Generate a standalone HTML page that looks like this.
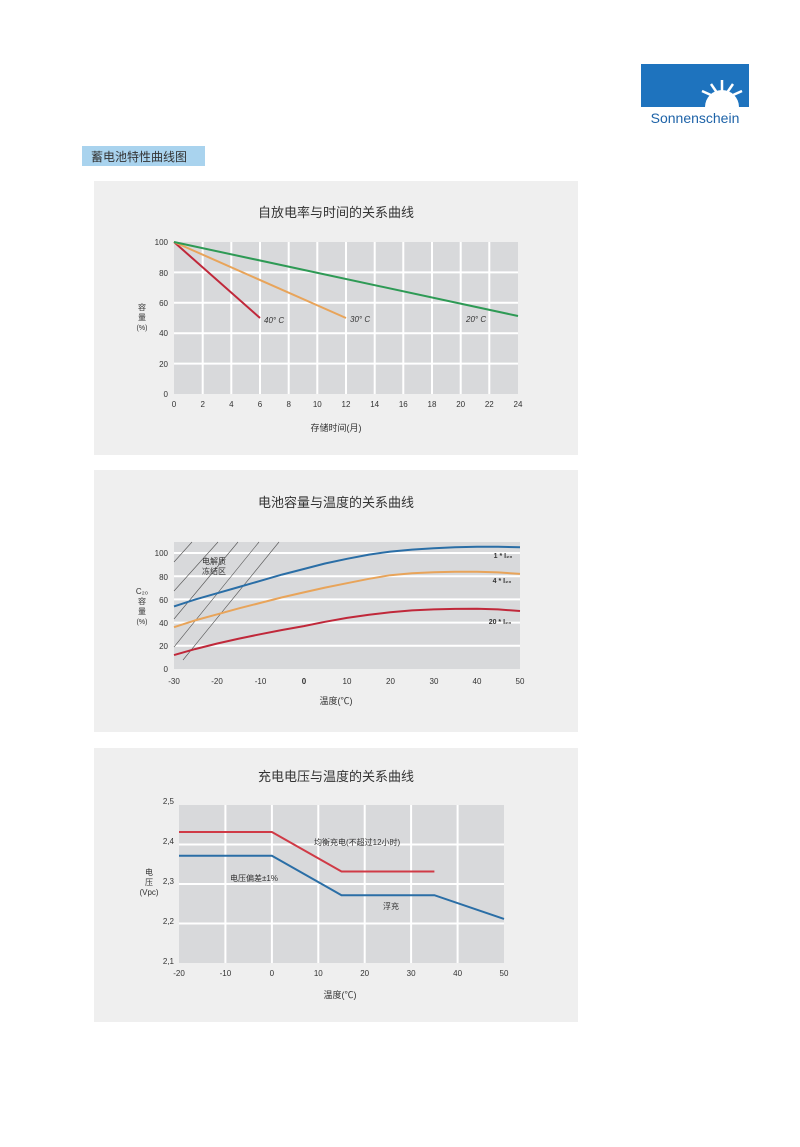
<!DOCTYPE html>
<html><head><meta charset="utf-8"><style>
body{margin:0;background:#fff;}
svg text{font-family:"Liberation Sans","Noto Sans CJK SC",sans-serif;fill:#333;}
</style></head><body>
<svg width="800" height="1142" viewBox="0 0 800 1142" xmlns="http://www.w3.org/2000/svg">
<!-- logo -->
<rect x="641" y="64" width="108" height="43" fill="#1e73be"/>
<g stroke="#fff" stroke-width="2.5">
<line x1="722" y1="100" x2="722" y2="80"/><line x1="722" y1="100" x2="711" y2="84"/><line x1="722" y1="100" x2="733" y2="84"/>
<line x1="722" y1="100" x2="702" y2="91"/><line x1="722" y1="100" x2="742" y2="91"/>
</g>
<path d="M705 107 A17 17 0 0 1 739 107 Z" fill="#fff"/>
<text x="695" y="123" font-size="14" text-anchor="middle" style="fill:#1e63a8">Sonnenschein</text>
<!-- badge -->
<rect x="82" y="146" width="123" height="20" fill="#a9d3ee"/>
<text x="91" y="161" font-size="12">蓄电池特性曲线图</text>

<!-- panel 1 -->
<rect x="94" y="181" width="484" height="274" fill="#efefef"/>
<text x="336" y="217" font-size="13" text-anchor="middle">自放电率与时间的关系曲线</text>
<rect x="174" y="242" width="344" height="152" fill="#d8d9db"/>
<g stroke="#fff" stroke-width="2">
<line x1="202.7" y1="242" x2="202.7" y2="394"/><line x1="231.3" y1="242" x2="231.3" y2="394"/><line x1="260" y1="242" x2="260" y2="394"/><line x1="288.7" y1="242" x2="288.7" y2="394"/><line x1="317.3" y1="242" x2="317.3" y2="394"/><line x1="346" y1="242" x2="346" y2="394"/><line x1="374.7" y1="242" x2="374.7" y2="394"/><line x1="403.3" y1="242" x2="403.3" y2="394"/><line x1="432" y1="242" x2="432" y2="394"/><line x1="460.7" y1="242" x2="460.7" y2="394"/><line x1="489.3" y1="242" x2="489.3" y2="394"/>
<line x1="174" y1="272.4" x2="518" y2="272.4"/><line x1="174" y1="302.8" x2="518" y2="302.8"/><line x1="174" y1="333.2" x2="518" y2="333.2"/><line x1="174" y1="363.6" x2="518" y2="363.6"/>
</g>
<g font-size="8" text-anchor="end">
<text x="168" y="245">100</text><text x="168" y="276">80</text><text x="168" y="306">60</text><text x="168" y="336">40</text><text x="168" y="367">20</text><text x="168" y="397">0</text>
</g>
<g font-size="8" text-anchor="middle">
<text x="174" y="407">0</text><text x="202.7" y="407">2</text><text x="231.3" y="407">4</text><text x="260" y="407">6</text><text x="288.7" y="407">8</text><text x="317.3" y="407">10</text><text x="346" y="407">12</text><text x="374.7" y="407">14</text><text x="403.3" y="407">16</text><text x="432" y="407">18</text><text x="460.7" y="407">20</text><text x="489.3" y="407">22</text><text x="518" y="407">24</text>
</g>
<text x="142" y="310" font-size="8" text-anchor="middle">容</text><text x="142" y="320" font-size="8" text-anchor="middle">量</text><text x="142" y="330" font-size="7" text-anchor="middle">(%)</text>
<text x="336" y="431" font-size="9" text-anchor="middle">存储时间(月)</text>
<line x1="174" y1="242" x2="260" y2="318" stroke="#c0283a" stroke-width="2"/>
<line x1="174" y1="242" x2="346" y2="318" stroke="#e8a45a" stroke-width="2"/>
<line x1="174" y1="242" x2="518" y2="316" stroke="#2e9a55" stroke-width="2"/>
<g font-size="8" font-style="italic"><text x="264" y="323">40° C</text><text x="350" y="322">30° C</text><text x="466" y="322">20° C</text></g>

<!-- panel 2 -->
<rect x="94" y="470" width="484" height="262" fill="#efefef"/>
<text x="336" y="507" font-size="13" text-anchor="middle">电池容量与温度的关系曲线</text>
<rect x="174" y="542" width="346" height="127" fill="#d8d9db"/>
<g stroke="#fff" stroke-width="2">
<line x1="174" y1="553" x2="520" y2="553"/><line x1="174" y1="576.2" x2="520" y2="576.2"/><line x1="174" y1="599.4" x2="520" y2="599.4"/><line x1="174" y1="622.6" x2="520" y2="622.6"/><line x1="174" y1="645.8" x2="520" y2="645.8"/>
</g>
<g stroke="#555" stroke-width="0.6">
<line x1="174" y1="562" x2="192" y2="542"/><line x1="174" y1="591" x2="218" y2="542"/><line x1="174" y1="619" x2="238" y2="542"/><line x1="174" y1="647" x2="259" y2="542"/><line x1="183" y1="660" x2="279" y2="542"/>
</g>
<text x="214" y="564" font-size="8" text-anchor="middle">电解质</text><text x="214" y="574" font-size="8" text-anchor="middle">冻结区</text>
<g font-size="8" text-anchor="end">
<text x="168" y="556">100</text><text x="168" y="580">80</text><text x="168" y="603">60</text><text x="168" y="626">40</text><text x="168" y="649">20</text><text x="168" y="672">0</text>
</g>
<g font-size="8" text-anchor="middle">
<text x="174" y="684">-30</text><text x="217" y="684">-20</text><text x="260.5" y="684">-10</text><text x="304" y="684" font-weight="bold">0</text><text x="347" y="684">10</text><text x="390.5" y="684">20</text><text x="434" y="684">30</text><text x="477" y="684">40</text><text x="520" y="684">50</text>
</g>
<text x="142" y="594" font-size="8" text-anchor="middle">C₂₀</text><text x="142" y="604" font-size="8" text-anchor="middle">容</text><text x="142" y="614" font-size="8" text-anchor="middle">量</text><text x="142" y="624" font-size="7" text-anchor="middle">(%)</text>
<text x="336" y="704" font-size="9" text-anchor="middle">温度(℃)</text>
<g fill="none" stroke-width="2" stroke-linejoin="round">
<polyline points="174,606.4 195,599.6 217.3,593.2 239,587 260.5,580.8 282,574.6 303.8,569 325,563.5 347,558.8 369,554.6 390.3,551.6 412,549.6 433.8,548.2 455,547.2 477,546.8 498,546.8 520,547.2" stroke="#2a6ea6"/>
<polyline points="174,627.2 195,620.4 217.3,614.3 239,608.3 260.5,602.9 282,597.4 303.8,592.4 325,587.6 347,583.2 369,578.8 390.3,575.2 412,573.2 433.8,572.2 455,571.7 477,571.7 498,572.4 520,573.9" stroke="#e8a45a"/>
<polyline points="174,655.1 195,649.1 217.3,643.5 239,638.6 260.5,634.2 282,630 303.8,626.1 325,621.8 347,617.9 369,614.8 390.3,612.3 412,610.4 433.8,609.4 455,608.9 477,608.8 498,609.4 520,611" stroke="#c0283a"/>
</g>
<g font-size="7" font-weight="bold" text-anchor="middle"><text x="503" y="558">1 * I₂₀</text><text x="502" y="583">4 * I₂₀</text><text x="500" y="624">20 * I₂₀</text></g>

<!-- panel 3 -->
<rect x="94" y="748" width="484" height="274" fill="#efefef"/>
<text x="336" y="781" font-size="13" text-anchor="middle">充电电压与温度的关系曲线</text>
<rect x="179" y="805" width="325" height="158" fill="#d8d9db"/>
<g stroke="#fff" stroke-width="2">
<line x1="225.4" y1="805" x2="225.4" y2="963"/><line x1="271.9" y1="805" x2="271.9" y2="963"/><line x1="318.3" y1="805" x2="318.3" y2="963"/><line x1="364.7" y1="805" x2="364.7" y2="963"/><line x1="411.1" y1="805" x2="411.1" y2="963"/><line x1="457.6" y1="805" x2="457.6" y2="963"/>
<line x1="179" y1="844.5" x2="504" y2="844.5"/><line x1="179" y1="884" x2="504" y2="884"/><line x1="179" y1="923.5" x2="504" y2="923.5"/>
</g>
<g font-size="8" text-anchor="end">
<text x="174" y="804">2,5</text><text x="174" y="844">2,4</text><text x="174" y="884">2,3</text><text x="174" y="924">2,2</text><text x="174" y="964">2,1</text>
</g>
<g font-size="8" text-anchor="middle">
<text x="179" y="976">-20</text><text x="225.4" y="976">-10</text><text x="271.9" y="976">0</text><text x="318.3" y="976">10</text><text x="364.7" y="976">20</text><text x="411.1" y="976">30</text><text x="457.6" y="976">40</text><text x="504" y="976">50</text>
</g>
<text x="149" y="875" font-size="8" text-anchor="middle">电</text><text x="149" y="885" font-size="8" text-anchor="middle">压</text><text x="149" y="895" font-size="8" text-anchor="middle">(Vpc)</text>
<text x="340" y="998" font-size="9" text-anchor="middle">温度(℃)</text>
<polyline points="179,832 271.9,832 341.5,871.5 434.4,871.5" fill="none" stroke="#d03a46" stroke-width="2"/>
<polyline points="179,855.7 271.9,855.7 341.5,895.2 434.4,895.2 504,918.9" fill="none" stroke="#2a6ea6" stroke-width="2"/>
<g font-size="8"><text x="314" y="845">均衡充电(不超过12小时)</text><text x="230" y="881">电压偏差±1%</text><text x="383" y="909">浮充</text></g>
</svg>
</body></html>
